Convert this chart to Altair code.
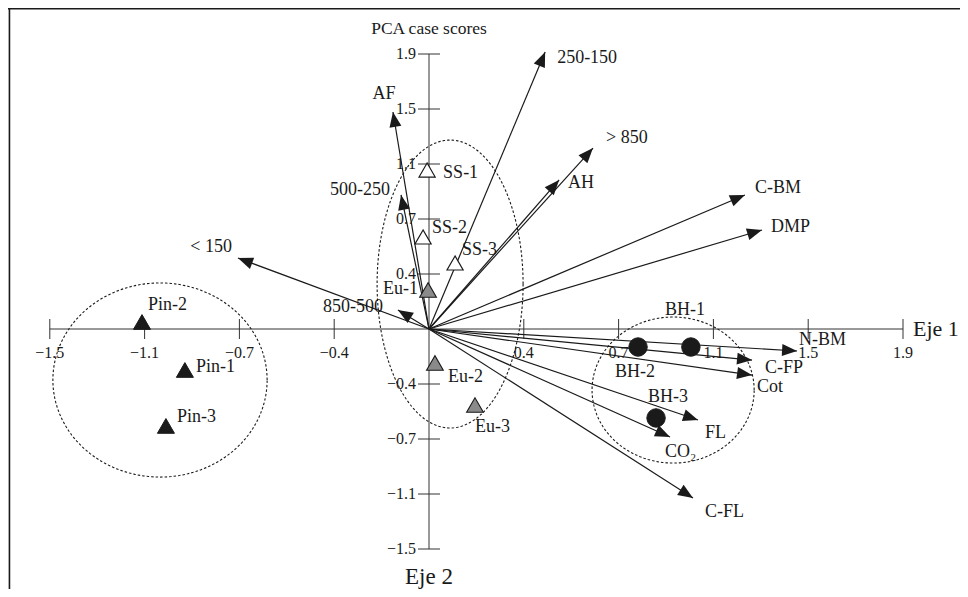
import math
import numpy as np
import pandas as pd
import altair as alt

# ---------------- data (nominal PCA units; one tick step = 0.4) ----------------
tick_vals = [-1.6, -1.2, -0.8, -0.4, 0.4, 0.8, 1.2, 1.6, 2.0]
x_tick_labels = ["−1.5", "−1.1", "−0.7", "−0.4", "0.4", "0.7", "1.1", "1.5", "1.9"]
y_tick_labels = ["−1.5", "−1.1", "−0.7", "−0.4", "0.4", "0.7", "1.1", "1.5", "1.9"]

var_names = ["250-150", "AF", "> 850", "AH", "C-BM", "DMP", "500-250", "< 150",
             "850-500", "N-BM", "C-FP", "Cot", "FL", "CO₂", "C-FL"]
var_x = [0.490, -0.152, 0.692, 0.549, 1.333, 1.405, -0.118, -0.806,
         -0.131, 1.553, 1.363, 1.363, 1.135, 1.017, 1.114]
var_y = [2.015, 1.578, 1.316, 1.084, 0.975, 0.720, 0.975, 0.516,
         0.138, -0.160, -0.226, -0.335, -0.662, -0.785, -1.229]

case_names = ["SS-1", "SS-2", "SS-3", "Eu-1", "Eu-2", "Eu-3",
              "Pin-1", "Pin-2", "Pin-3", "BH-1", "BH-2", "BH-3"]
case_x = [-0.008, -0.025, 0.110, -0.004, 0.025, 0.194,
          -1.030, -1.211, -1.110, 1.105, 0.882, 0.958]
case_y = [1.156, 0.669, 0.480, 0.284, -0.247, -0.553,
          -0.298, 0.051, -0.705, -0.131, -0.131, -0.647]
case_group = ["SS", "SS", "SS", "Eu", "Eu", "Eu",
              "Pin", "Pin", "Pin", "BH", "BH", "BH"]

ell_cx = [-1.135, 0.089, 1.030]
ell_cy = [-0.371, 0.327, -0.444]
ell_rx = [0.452, 0.308, 0.342]
ell_ry = [0.706, 1.047, 0.531]

# ---------------- layout (pixels) ----------------
W, H = 952, 581
ORIGIN_PX = (421, 321)       # origin inside plot area
STEP_PX = (94.8, 55.0)       # pixels per 0.4 units
SX = STEP_PX[0] / 0.4
SY = STEP_PX[1] / 0.4
X_MIN, X_MAX = -ORIGIN_PX[0] / SX, (W - ORIGIN_PX[0]) / SX
Y_MIN, Y_MAX = -(H - ORIGIN_PX[1]) / SY, ORIGIN_PX[1] / SY

FONT = "Liberation Serif"
INK = "#1a1a1a"

# label offsets in pixels (dx, dy) and alignment
var_lab = {
    "250-150": (12, 6, "left"), "AF": (-9, -18, "center"), "> 850": (13, -10, "left"),
    "AH": (9, 3, "left"), "C-BM": (10, -7, "left"), "DMP": (9, -3, "left"),
    "500-250": (-11, -5, "right"), "< 150": (-6, -11, "right"),
    "850-500": (-15, -3, "right"), "N-BM": (2, -11, "left"), "C-FP": (13, 8, "left"),
    "Cot": (5, 12, "left"), "FL": (7, 13, "left"), "CO₂": (-5, 15, "left"),
    "C-FL": (12, 14, "left"),
}
case_lab = {
    "SS-1": (16, 3, "left"), "SS-2": (9, -9, "left"), "SS-3": (7, -13, "left"),
    "Eu-1": (-10, -1, "right"), "Eu-2": (13, 14, "left"), "Eu-3": (0, 22, "left"),
    "Pin-1": (11, -3, "left"), "Pin-2": (6, -17, "left"), "Pin-3": (11, -9, "left"),
    "BH-1": (-6, -37, "center"), "BH-2": (-3, 25, "center"), "BH-3": (12, -21, "center"),
}

xs = alt.Scale(domain=[X_MIN, X_MAX], nice=False, zero=False)
ys = alt.Scale(domain=[Y_MIN, Y_MAX], nice=False, zero=False)


def X(f):
    return alt.X(f, type="quantitative", scale=xs, axis=None)


def Y(f):
    return alt.Y(f, type="quantitative", scale=ys, axis=None)


one = pd.DataFrame({"a": [0]})

# frame
frame_left = alt.Chart(one).mark_rule(color=INK, strokeWidth=1.5).encode(
    x=alt.value(1.5), y=alt.value(0), y2=alt.value(H))
frame_top = alt.Chart(one).mark_rule(color=INK, strokeWidth=1.5).encode(
    x=alt.value(0), x2=alt.value(W), y=alt.value(0.75))

# axis lines
axes_df = pd.DataFrame({
    "x": [tick_vals[0], 0.0], "x2": [tick_vals[-1], 0.0],
    "y": [0.0, tick_vals[0]], "y2": [0.0, tick_vals[-1]],
})
axes_lines = alt.Chart(axes_df).mark_rule(color="#333", strokeWidth=1).encode(
    x=X("x"), x2="x2", y=Y("y"), y2="y2")

ticks_df = pd.DataFrame({"v": tick_vals, "zero": [0.0] * len(tick_vals),
                         "xl": x_tick_labels, "yl": y_tick_labels})
xticks = alt.Chart(ticks_df).mark_rule(color="#333", strokeWidth=1,
                                       yOffset=-10, y2Offset=10).encode(
    x=X("v"), y=Y("zero"), y2="zero")
yticks = alt.Chart(ticks_df).mark_rule(color="#333", strokeWidth=1,
                                       xOffset=-11, x2Offset=11).encode(
    y=Y("v"), x=X("zero"), x2="zero")
xtick_text = alt.Chart(ticks_df).mark_text(font=FONT, fontSize=16, color=INK,
                                           dy=24, align="center", baseline="middle").encode(
    x=X("v"), y=Y("zero"), text="xl:N")
ytick_text = alt.Chart(ticks_df).mark_text(font=FONT, fontSize=16, color=INK,
                                           dx=-13, align="right", baseline="middle").encode(
    x=X("zero"), y=Y("v"), text="yl:N")

# ellipses
ell_rows = []
t = np.linspace(0, 2 * np.pi, 241)
for i in range(len(ell_cx)):
    for k, tt in enumerate(t):
        ell_rows.append({"e": i, "k": k,
                         "x": ell_cx[i] + ell_rx[i] * math.cos(tt),
                         "y": ell_cy[i] + ell_ry[i] * math.sin(tt)})
ell_df = pd.DataFrame(ell_rows)
ellipses = alt.Chart(ell_df).mark_line(color=INK, strokeWidth=1.1,
                                       strokeDash=[2.5, 2]).encode(
    x=X("x"), y=Y("y"), detail="e:N", order="k:Q")

# arrows
var_df = pd.DataFrame({"name": var_names, "x": var_x, "y": var_y})
var_df["x0"] = 0.0
var_df["y0"] = 0.0
var_df["ang"] = [(math.degrees(math.atan2(a * SX, b * SY)) + 360) % 360
                 for a, b in zip(var_x, var_y)]
var_df["lx"] = [x + var_lab[n][0] / SX for n, x in zip(var_names, var_x)]
var_df["ly"] = [y - var_lab[n][1] / SY for n, y in zip(var_names, var_y)]
var_df["al"] = [var_lab[n][2] for n in var_names]

arrow_lines = alt.Chart(var_df).mark_rule(color=INK, strokeWidth=1.2).encode(
    x=X("x0"), y=Y("y0"), x2="x", y2="y")
arrow_heads = alt.Chart(var_df).mark_point(
    shape="M0,0L0.4,1L-0.4,1Z", size=900, filled=True, fill=INK,
    strokeWidth=0, opacity=1).encode(
    x=X("x"), y=Y("y"), angle=alt.Angle("ang:Q", scale=None))

# cases
case_df = pd.DataFrame({"name": case_names, "x": case_x, "y": case_y, "g": case_group})
case_df["lx"] = [x + case_lab[n][0] / SX for n, x in zip(case_names, case_x)]
case_df["ly"] = [y - case_lab[n][1] / SY for n, y in zip(case_names, case_y)]
case_df["al"] = [case_lab[n][2] for n in case_names]

ss_pts = alt.Chart(case_df).transform_filter(alt.datum.g == "SS").mark_point(
    shape="triangle-up", size=260, filled=True, fill="white", stroke=INK,
    strokeWidth=1.2, opacity=1).encode(x=X("x"), y=Y("y"))
eu_pts = alt.Chart(case_df).transform_filter(alt.datum.g == "Eu").mark_point(
    shape="triangle-up", size=280, filled=True, fill="#8a8a8a", stroke=INK,
    strokeWidth=1.1, opacity=1).encode(x=X("x"), y=Y("y"))
pin_pts = alt.Chart(case_df).transform_filter(alt.datum.g == "Pin").mark_point(
    shape="triangle-up", size=290, filled=True, fill=INK, stroke=INK,
    strokeWidth=1, opacity=1).encode(x=X("x"), y=Y("y"))
bh_pts = alt.Chart(case_df).transform_filter(alt.datum.g == "BH").mark_point(
    shape="circle", size=340, filled=True, fill=INK, stroke=INK,
    strokeWidth=1, opacity=1).encode(x=X("x"), y=Y("y"))

layers = [frame_left, frame_top, ellipses, axes_lines, xticks, yticks,
          xtick_text, ytick_text, arrow_lines, arrow_heads,
          ss_pts, eu_pts, pin_pts, bh_pts]

for df in (var_df, case_df):
    for al in ("left", "center", "right"):
        layers.append(
            alt.Chart(df).transform_filter(alt.datum.al == al).mark_text(
                font=FONT, fontSize=18, color=INK, align=al, baseline="middle"
            ).encode(x=X("lx"), y=Y("ly"), text="name:N"))

# axis titles
titles_df = pd.DataFrame({"x": [0.0], "y": [0.0]})
layers.append(alt.Chart(titles_df).mark_text(font=FONT, fontSize=17.5, color=INK,
                                             align="center", baseline="middle").encode(
    x=X("x"), y=alt.value(21), text=alt.value("PCA case scores")))
layers.append(alt.Chart(titles_df).mark_text(font=FONT, fontSize=23, color=INK,
                                             align="center", baseline="middle").encode(
    x=X("x"), y=alt.value(569), text=alt.value("Eje 2")))
layers.append(alt.Chart(titles_df).mark_text(font=FONT, fontSize=22, color=INK,
                                             align="left", baseline="middle").encode(
    x=alt.value(905), y=Y("y"), text=alt.value("Eje 1")))

chart = alt.layer(*layers).properties(
    width=W, height=H, padding=0, autosize=alt.AutoSizeParams(type="none")
).configure_view(stroke=None).configure(background="white")

chart.save("out.html", embed_options={"renderer": "svg", "actions": False})
